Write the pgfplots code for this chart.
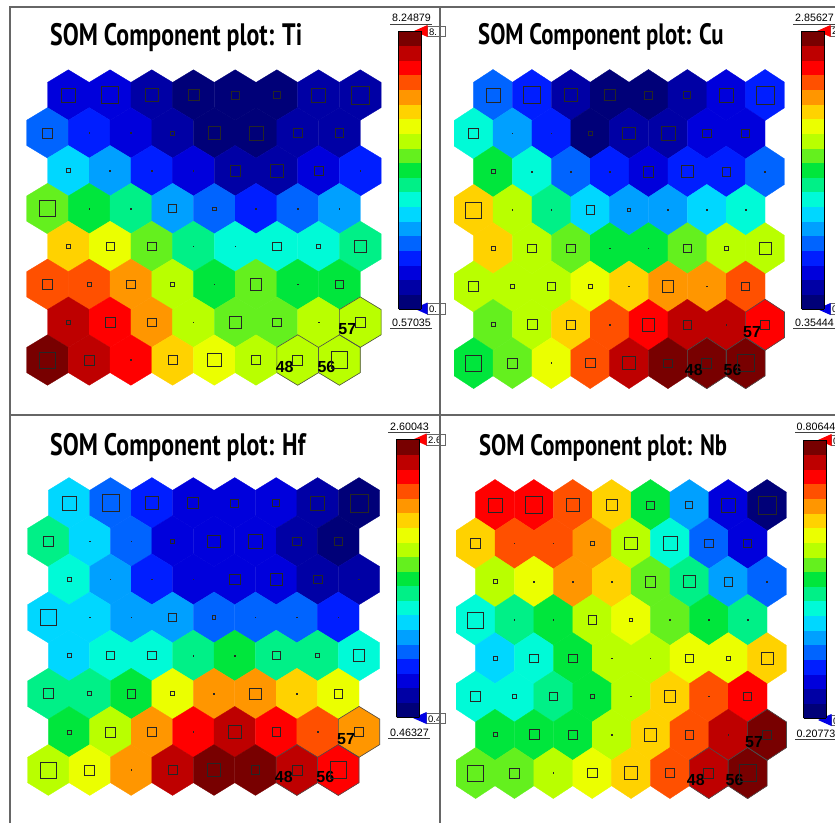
\documentclass[border=0pt]{standalone}
\usepackage{fontspec}
\setmainfont{Liberation Sans}
\newfontfamily\titlefont[FakeStretch=0.77]{PT Sans}
\usepackage{pgfplots}
\usepackage{pgfplotstable}
\pgfplotsset{compat=1.18}

\newcommand\hexpath[3]{%
  \pgfpathmoveto{\pgfqpoint{0pt}{#2}}%
  \pgfpathlineto{\pgfqpoint{#1}{#3}}%
  \pgfpathlineto{\pgfqpoint{#1}{-#3}}%
  \pgfpathlineto{\pgfqpoint{0pt}{-#2}}%
  \pgfpathlineto{\pgfqpoint{-#1}{-#3}}%
  \pgfpathlineto{\pgfqpoint{-#1}{#3}}%
  \pgfpathclose}
\pgfdeclareplotmark{hexTi}{\hexpath{20.85pt}{25.24pt}{12.62pt}\pgfusepathqfillstroke}
\pgfdeclareplotmark{hexTiO}{\hexpath{20.85pt}{25.24pt}{12.62pt}\pgfusepathqstroke}
\pgfdeclareplotmark{hexCu}{\hexpath{19.43pt}{25.53pt}{12.77pt}\pgfusepathqfillstroke}
\pgfdeclareplotmark{hexCuO}{\hexpath{19.43pt}{25.53pt}{12.77pt}\pgfusepathqstroke}
\pgfdeclareplotmark{hexHf}{\hexpath{20.71pt}{25.43pt}{12.71pt}\pgfusepathqfillstroke}
\pgfdeclareplotmark{hexHfO}{\hexpath{20.71pt}{25.43pt}{12.71pt}\pgfusepathqstroke}
\pgfdeclareplotmark{hexNb}{\hexpath{19.43pt}{25.53pt}{12.76pt}\pgfusepathqfillstroke}
\pgfdeclareplotmark{hexNbO}{\hexpath{19.43pt}{25.53pt}{12.76pt}\pgfusepathqstroke}

\newcommand\cbfont{\fontsize{10.7}{12}\selectfont}
\newcommand\boxfont{\fontsize{9.5}{10}\selectfont}

\pgfplotsset{
  colormap={somjet}{rgb255=(0,0,120) rgb255=(0,0,165) rgb255=(0,0,220) rgb255=(0,30,255)
    rgb255=(0,100,255) rgb255=(0,160,255) rgb255=(0,215,255) rgb255=(0,250,215)
    rgb255=(0,240,135) rgb255=(0,230,60) rgb255=(100,240,30) rgb255=(185,255,0)
    rgb255=(235,255,0) rgb255=(255,210,0) rgb255=(255,150,0) rgb255=(255,80,0)
    rgb255=(255,0,0) rgb255=(190,0,0) rgb255=(120,0,0)},
  somaxis/.style={at={(0pt,0pt)}, anchor=south west, scale only axis,
    width=835pt, height=823pt, xmin=0, xmax=835, ymin=0, ymax=823,
    y dir=reverse, hide axis, clip=false,
    colormap name=somjet, colormap access=piecewise constant,
    colorbar,
    colorbar style={at={(parent axis.north west)}, anchor=north west,
      scale only axis, width=22.5pt, height=278pt, ytick=\empty, xtick=\empty,
      axis line style={black, line width=0.5pt}}},
  hexfill/.style={scatter, only marks, mark=#1,
    scatter/use mapped color={draw=mapped color, fill=mapped color},
    mark options={line width=0.3pt}, point meta=\thisrow{v}},
  hexsq/.style={scatter, only marks, mark=square, point meta=\thisrow{s},
    scatter/use mapped color={draw=black!85, fill=none},
    visualization depends on={\thisrow{s} \as \sqsize},
    scatter/@pre marker code/.append style={/tikz/mark size=\sqsize},
    mark options={line width=0.7pt}},
  hexlab/.style={only marks, mark=#1, mark options={draw=black!70, line width=0.6pt},
    nodes near coords, point meta=explicit symbolic,
    nodes near coords style={font=\fontsize{16}{16}\selectfont\bfseries, text=black,
      anchor=center, xshift=-13pt, yshift=-7pt}},
}

% hit-count squares (half side, pt), shared by all four maps
\pgfplotstableread{
c r s
0 0 7
1 0 8.5
2 0 6.7
3 0 5.5
4 0 4
5 0 3.5
6 0 7
7 0 9
0 1 5
1 1 0.3
2 1 0.3
3 1 2
4 1 6.3
5 1 7
6 1 4.2
7 1 4.2
0 2 2
1 2 0.3
2 2 0.3
3 2 0.3
4 2 5.3
5 2 6.2
6 2 4.3
7 2 0.3
0 3 8
1 3 0.3
2 3 0.3
3 3 4.2
4 3 1.7
5 3 0.3
6 3 0.3
7 3 0.3
0 4 2
1 4 4.2
2 4 4.2
3 4 0.3
4 4 0.3
5 4 4.2
6 4 2
7 4 5.8
0 5 5
1 5 2
2 5 4.2
3 5 2
4 5 0.3
5 5 5.8
6 5 0.3
7 5 4.2
0 6 2
1 6 5
2 6 4.2
3 6 0.3
4 6 6.3
5 6 4.2
6 6 0.3
7 6 4.7
0 7 8
1 7 5
2 7 0.3
3 7 4.7
4 7 6.7
5 7 4.2
6 7 5
7 7 8.3
}\tabSq

\pgfplotstableread{
c r lab
6 7 48
7 7 56
7 6 57
}\tabLab

\pgfplotstableread{
c r v
0 0 1.58
1 0 1.58
2 0 1.18
3 0 0.77
4 0 0.77
5 0 0.77
6 0 1.18
7 0 1.18
0 1 2.39
1 1 1.98
2 1 1.58
3 1 1.18
4 1 0.77
5 1 0.77
6 1 1.18
7 1 1.18
0 2 3.20
1 2 2.79
2 2 1.98
3 2 1.58
4 2 1.18
5 2 1.18
6 2 1.58
7 2 1.98
0 3 4.81
1 3 4.41
2 3 4.01
3 3 2.79
4 3 2.39
5 3 1.98
6 3 2.39
7 3 2.79
0 4 6.03
1 4 5.62
2 4 4.81
3 4 4.01
4 4 3.60
5 4 3.60
6 4 3.60
7 4 4.01
0 5 6.83
1 5 6.83
2 5 6.43
3 5 5.22
4 5 4.41
5 5 4.81
6 5 4.41
7 5 4.41
0 6 7.64
1 6 7.24
2 6 6.43
3 6 5.22
4 6 4.81
5 6 4.81
6 6 5.22
7 6 5.22
0 7 8.05
1 7 7.64
2 7 7.24
3 7 6.03
4 7 5.62
5 7 5.22
6 7 5.22
7 7 5.22
}\tabTi

\pgfplotstableread{
c r v
0 0 0.947
1 0 0.815
2 0 0.552
3 0 0.420
4 0 0.420
5 0 0.552
6 0 0.684
7 0 0.815
0 1 1.342
1 1 1.079
2 1 0.815
3 1 0.420
4 1 0.552
5 1 0.552
6 1 0.684
7 1 0.684
0 2 1.605
1 2 1.342
2 2 0.947
3 2 0.815
4 2 0.684
5 2 0.815
6 2 0.815
7 2 0.947
0 3 2.132
1 3 1.869
2 3 1.474
3 3 1.210
4 3 1.079
5 3 1.079
6 3 1.210
7 3 1.342
0 4 2.132
1 4 1.869
2 4 1.737
3 4 1.605
4 4 1.605
5 4 1.737
6 4 1.869
7 4 1.869
0 5 1.869
1 5 1.869
2 5 1.869
3 5 2.000
4 5 2.132
5 5 2.264
6 5 2.264
7 5 2.395
0 6 1.737
1 6 1.869
2 6 2.132
3 6 2.395
4 6 2.527
5 6 2.659
6 6 2.659
7 6 2.527
0 7 1.605
1 7 1.737
2 7 2.000
3 7 2.395
4 7 2.659
5 7 2.790
6 7 2.790
7 7 2.790
}\tabCu

\pgfplotstableread{
c r v
0 0 1.194
1 0 0.969
2 0 0.857
3 0 0.744
4 0 0.744
5 0 0.744
6 0 0.632
7 0 0.520
0 1 1.419
1 1 1.194
2 1 0.969
3 1 0.744
4 1 0.744
5 1 0.744
6 1 0.632
7 1 0.520
0 2 1.307
1 2 1.082
2 2 0.857
3 2 0.744
4 2 0.744
5 2 0.744
6 2 0.632
7 2 0.632
0 3 1.194
1 3 1.194
2 3 1.082
3 3 1.082
4 3 0.969
5 3 0.969
6 3 0.969
7 3 0.857
0 4 1.194
1 4 1.307
2 4 1.307
3 4 1.419
4 4 1.532
5 4 1.419
6 4 1.419
7 4 1.307
0 5 1.419
1 5 1.419
2 5 1.532
3 5 1.869
4 5 2.094
5 5 2.094
6 5 1.982
7 5 1.869
0 6 1.532
1 6 1.757
2 6 2.094
3 6 2.319
4 6 2.432
5 6 2.319
6 6 2.207
7 6 2.094
0 7 1.757
1 7 1.869
2 7 2.094
3 7 2.432
4 7 2.544
5 7 2.544
6 7 2.432
7 7 2.319
}\tabHf

\pgfplotstableread{
c r v
0 0 0.7277
1 0 0.7277
2 0 0.6961
3 0 0.6331
4 0 0.5071
5 0 0.3810
6 0 0.2865
7 0 0.2235
0 1 0.6331
1 1 0.6961
2 1 0.6961
3 1 0.6646
4 1 0.5701
5 1 0.4441
6 1 0.3495
7 1 0.2865
0 2 0.5701
1 2 0.6016
2 2 0.6646
3 2 0.6331
4 2 0.5386
5 2 0.4756
6 2 0.3810
7 2 0.3495
0 3 0.4441
1 3 0.4756
2 3 0.5071
3 3 0.5701
4 3 0.6016
5 3 0.5386
6 3 0.5071
7 3 0.4756
0 4 0.4126
1 4 0.4441
2 4 0.5071
3 4 0.5701
4 4 0.5701
5 4 0.6016
6 4 0.6016
7 4 0.6331
0 5 0.4441
1 5 0.4441
2 5 0.4756
3 5 0.5071
4 5 0.5701
5 5 0.6331
6 5 0.6961
7 5 0.7277
0 6 0.5071
1 6 0.5071
2 6 0.5071
3 6 0.5701
4 6 0.6331
5 6 0.6961
6 6 0.7592
7 6 0.7907
0 7 0.5386
1 7 0.5386
2 7 0.5701
3 7 0.6016
4 7 0.6331
5 7 0.6961
6 7 0.7592
7 7 0.7907
}\tabNb

\newcommand\gridx{\XO+\thisrow{c}*\DX+0.5*\DX*(1-mod(\thisrow{r},2))}
\newcommand\gridy{\YO+\thisrow{r}*\DY}

\begin{document}
\begin{tikzpicture}
\useasboundingbox (0,0) rectangle (835pt,823pt);
\clip (0,0) rectangle (835pt,823pt);
\fill[white] (0,0) rectangle (835pt,823pt);

% ---------------- Ti ----------------
\begin{axis}[somaxis, point meta min=0.57035, point meta max=8.24879,
  colorbar style={xshift=390pt, yshift=-31pt}]
\def\XO{47.5}\def\DX{41.7}\def\YO{95}\def\DY{37.86}
\addplot[hexfill=hexTi] table[x expr={\gridx}, y expr={\gridy}] \tabTi;
\addplot[hexlab=hexTiO] table[x expr={\gridx}, y expr={\gridy}, meta=lab] \tabLab;
\addplot[hexsq] table[x expr={\gridx}, y expr={\gridy}] \tabSq;
\node[anchor=base west, inner sep=0pt, font=\titlefont\bfseries\fontsize{31}{31}\selectfont] at (axis cs:50,45) {SOM Component plot: Ti};
\node[anchor=base west, inner sep=0pt, font=\cbfont] at (axis cs:392,21.7) {8.24879};
\draw[black!75, line width=0.6pt] (axis cs:390,24) -- (axis cs:432,24);
\node[anchor=base west, inner sep=0pt, font=\cbfont] at (axis cs:392,326.5) {0.57035};
\draw[black!75, line width=0.6pt] (axis cs:390,328.5) -- (axis cs:432,328.5);
\draw[black!60, fill=white, line width=0.5pt] (axis cs:427,26) rectangle (axis cs:445,36.5);
\node[anchor=base west, inner sep=0pt, font=\boxfont] at (axis cs:429,35) {8.};
\fill[red] (axis cs:414,31) -- (axis cs:427.5,25) -- (axis cs:427.5,37) -- cycle;
\draw[black!60, fill=white, line width=0.5pt] (axis cs:427,303.5) rectangle (axis cs:445,314);
\node[anchor=base west, inner sep=0pt, font=\boxfont] at (axis cs:429,312.5) {0.};
\fill[blue!90!black] (axis cs:414,308.5) -- (axis cs:427.5,302.5) -- (axis cs:427.5,314.5) -- cycle;
\end{axis}

% ---------------- Cu ----------------
\begin{axis}[somaxis, point meta min=0.35444, point meta max=2.85627,
  colorbar style={xshift=793pt, yshift=-31pt}]
\def\XO{473.6}\def\DX{38.86}\def\YO{95}\def\DY{38.3}
\addplot[hexfill=hexCu] table[x expr={\gridx}, y expr={\gridy}] \tabCu;
\addplot[hexlab=hexCuO] table[x expr={\gridx}, y expr={\gridy}, meta=lab] \tabLab;
\addplot[hexsq] table[x expr={\gridx}, y expr={\gridy}] \tabSq;
\node[anchor=base west, inner sep=0pt, font=\titlefont\bfseries\fontsize{29.5}{29.5}\selectfont] at (axis cs:478,45) {SOM Component plot: Cu};
\node[anchor=base west, inner sep=0pt, font=\cbfont] at (axis cs:795,21.7) {2.85627};
\draw[black!75, line width=0.6pt] (axis cs:793,24) -- (axis cs:835,24);
\node[anchor=base west, inner sep=0pt, font=\cbfont] at (axis cs:795,326.5) {0.35444};
\draw[black!75, line width=0.6pt] (axis cs:793,328.5) -- (axis cs:835,328.5);
\draw[black!60, fill=white, line width=0.5pt] (axis cs:830,26) rectangle (axis cs:850,36.5);
\node[anchor=base west, inner sep=0pt, font=\boxfont] at (axis cs:832,35) {2};
\fill[red] (axis cs:817,31) -- (axis cs:830.5,25) -- (axis cs:830.5,37) -- cycle;
\draw[black!60, fill=white, line width=0.5pt] (axis cs:830,303.5) rectangle (axis cs:850,314);
\node[anchor=base west, inner sep=0pt, font=\boxfont] at (axis cs:832,312.5) {0};
\fill[blue!90!black] (axis cs:817,309) -- (axis cs:830.5,303) -- (axis cs:830.5,315) -- cycle;
\end{axis}

% ---------------- Hf ----------------
\begin{axis}[somaxis, point meta min=0.46327, point meta max=2.60043,
  colorbar style={xshift=388pt, yshift=-439.5pt}]
\def\XO{48.3}\def\DX{41.43}\def\YO{503}\def\DY{38.14}
\addplot[hexfill=hexHf] table[x expr={\gridx}, y expr={\gridy}] \tabHf;
\addplot[hexlab=hexHfO] table[x expr={\gridx}, y expr={\gridy}, meta=lab] \tabLab;
\addplot[hexsq] table[x expr={\gridx}, y expr={\gridy}] \tabSq;
\node[anchor=base west, inner sep=0pt, font=\titlefont\bfseries\fontsize{31}{31}\selectfont] at (axis cs:50,455) {SOM Component plot: Hf};
\node[anchor=base west, inner sep=0pt, font=\cbfont] at (axis cs:390,430) {2.60043};
\draw[black!75, line width=0.6pt] (axis cs:388,432.5) -- (axis cs:430,432.5);
\node[anchor=base west, inner sep=0pt, font=\cbfont] at (axis cs:390,736) {0.46327};
\draw[black!75, line width=0.6pt] (axis cs:388,738) -- (axis cs:430,738);
\draw[black!60, fill=white, line width=0.5pt] (axis cs:426,434.5) rectangle (axis cs:445,445);
\node[anchor=base west, inner sep=0pt, font=\boxfont] at (axis cs:428,443.5) {2.6};
\fill[red] (axis cs:413,439.5) -- (axis cs:426.5,433.5) -- (axis cs:426.5,445.5) -- cycle;
\draw[black!60, fill=white, line width=0.5pt] (axis cs:426,713) rectangle (axis cs:445,723.5);
\node[anchor=base west, inner sep=0pt, font=\boxfont] at (axis cs:428,722) {0.4};
\fill[blue!90!black] (axis cs:413,718) -- (axis cs:426.5,712) -- (axis cs:426.5,724) -- cycle;
\end{axis}

% ---------------- Nb ----------------
\begin{axis}[somaxis, point meta min=0.20773, point meta max=0.80644,
  colorbar style={xshift=795pt, yshift=-440pt}]
\def\XO{475.6}\def\DX{38.86}\def\YO{505}\def\DY{38.29}
\addplot[hexfill=hexNb] table[x expr={\gridx}, y expr={\gridy}] \tabNb;
\addplot[hexlab=hexNbO] table[x expr={\gridx}, y expr={\gridy}, meta=lab] \tabLab;
\addplot[hexsq] table[x expr={\gridx}, y expr={\gridy}] \tabSq;
\node[anchor=base west, inner sep=0pt, font=\titlefont\bfseries\fontsize{29.5}{29.5}\selectfont] at (axis cs:479,455) {SOM Component plot: Nb};
\node[anchor=base west, inner sep=0pt, font=\cbfont] at (axis cs:796.5,430) {0.80644};
\draw[black!75, line width=0.6pt] (axis cs:795,432.5) -- (axis cs:835,432.5);
\node[anchor=base west, inner sep=0pt, font=\cbfont] at (axis cs:796.5,737.5) {0.20773};
\draw[black!75, line width=0.6pt] (axis cs:795,739.5) -- (axis cs:835,739.5);
\draw[black!60, fill=white, line width=0.5pt] (axis cs:831,435) rectangle (axis cs:850,445.5);
\node[anchor=base west, inner sep=0pt, font=\boxfont] at (axis cs:833,444) {0};
\fill[red] (axis cs:818,440) -- (axis cs:831.5,434) -- (axis cs:831.5,446) -- cycle;
\draw[black!60, fill=white, line width=0.5pt] (axis cs:831,715) rectangle (axis cs:850,725.5);
\node[anchor=base west, inner sep=0pt, font=\boxfont] at (axis cs:833,724) {0};
\fill[blue!90!black] (axis cs:818,720) -- (axis cs:831.5,714) -- (axis cs:831.5,726) -- cycle;
% panel frame
\draw[black!60, line width=1.3pt] (axis cs:10,823) -- (axis cs:10,7) -- (axis cs:835,7);
\draw[black!60, line width=1.3pt] (axis cs:440,7) -- (axis cs:440,823);
\draw[black!60, line width=1.3pt] (axis cs:10,415) -- (axis cs:835,415);
\end{axis}
\end{tikzpicture}
\end{document}
